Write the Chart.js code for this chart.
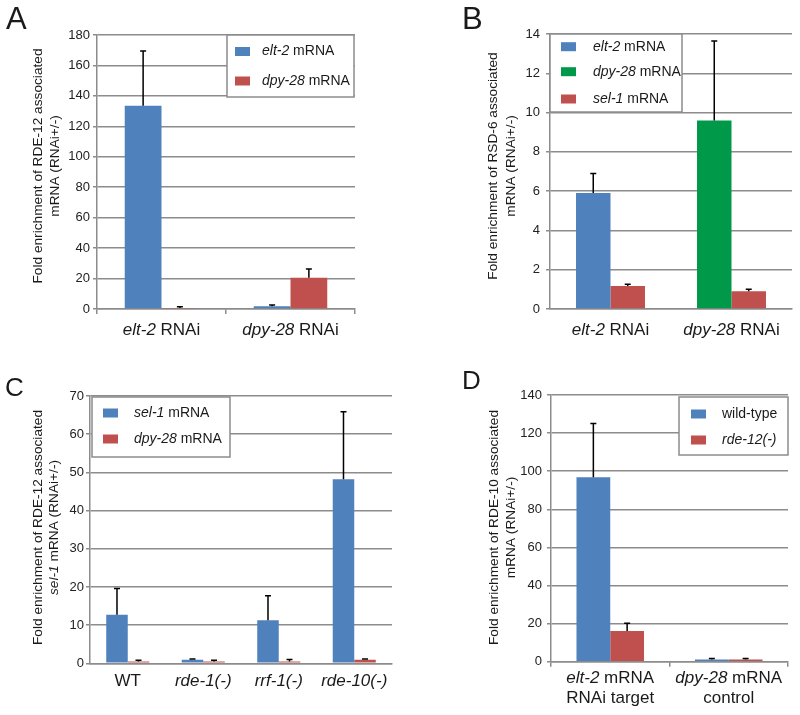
<!DOCTYPE html>
<html>
<head>
<meta charset="utf-8">
<script src="https://cdn.jsdelivr.net/npm/chart.js@4.4.1/dist/chart.umd.min.js"></script>
<style>
  body { margin: 0; background: #fff; }
  #page { position: relative; width: 800px; height: 715px; font-family: 'Liberation Sans', Arial, sans-serif; color: #1a1a1a; }
  #page canvas { position: absolute; }
  .tag { position: absolute; line-height: 1; }
</style>
</head>
<body>
<div id="page">
  <canvas id="chartA" width="400" height="340" style="left:0;top:0"></canvas>
  <canvas id="chartB" width="400" height="340" style="left:400px;top:0"></canvas>
  <canvas id="chartC" width="400" height="375" style="left:0;top:340px"></canvas>
  <canvas id="chartD" width="400" height="375" style="left:400px;top:340px"></canvas>
  <div class="tag" style="left:6px;top:3px;font-size:31px">A</div>
  <div class="tag" style="left:462px;top:3px;font-size:31px">B</div>
  <div class="tag" style="left:5px;top:374px;font-size:26px">C</div>
  <div class="tag" style="left:462px;top:367px;font-size:26px">D</div>
</div>
<script>
// text between *...* is drawn in italics

// A - RDE-12 associated mRNA
const catsA = ['*elt-2* RNAi', '*dpy-28* RNAi'];
const elt2A = [133.5, 1.8];
const elt2SdA = [36, 0.8];
const dpy28A = [0.6, 20.5];
const dpy28SdA = [0.9, 5.8];
const legendA = ['*elt-2* mRNA', '*dpy-28* mRNA'];

// B - RSD-6 associated mRNA (target bar is elt-2 or dpy-28)
const catsB = ['*elt-2* RNAi', '*dpy-28* RNAi'];
const targetB = [5.9, 9.6];
const targetSdB = [1.0, 4.05];
const sel1B = [1.17, 0.9];
const sel1SdB = [0.09, 0.1];
const legendB = ['*elt-2* mRNA', '*dpy-28* mRNA', '*sel-1* mRNA'];

// C - RDE-12 associated sel-1 mRNA
const catsC = ['WT', '*rde-1(-)*', '*rrf-1(-)*', '*rde-10(-)*'];
const sel1C = [12.7, 0.9, 11.3, 48.2];
const sel1SdC = [6.9, 0.2, 6.4, 17.7];
const dpy28C = [0.5, 0.5, 0.5, 0.9];
const dpy28SdC = [0.3, 0.3, 0.5, 0.2];
const legendC = ['*sel-1* mRNA', '*dpy-28* mRNA'];

// D - RDE-10 associated mRNA
const catsD = [['*elt-2* mRNA', 'RNAi target'], ['*dpy-28* mRNA', 'control']];
const wildD = [96.8, 1.2];
const wildSdD = [28.3, 0.5];
const rde12D = [16.1, 1.2];
const rde12SdD = [4.1, 0.5];
const legendD = ['wild-type', '*rde-12(-)*'];

// y axis ranges
const yMax = { A: 180, B: 14, C: 70, D: 140 };
const yStep = { A: 20, B: 2, C: 10, D: 20 };

const blue = '#4f81bd', red = '#c0504d', green = '#00994a';
const axisGray = '#8c8c8c';
const FONT = "'Liberation Sans', Arial, sans-serif";

Chart.defaults.font.family = FONT;
Chart.defaults.color = '#222';

function parseRich(str) {
  return str.split('*').map((t, i) => ({ text: t, italic: i % 2 === 1 })).filter(p => p.text !== '');
}

function drawRich(ctx, str, x, y, size, align) {
  const parts = parseRich(str);
  let total = 0;
  parts.forEach(p => {
    ctx.font = (p.italic ? 'italic ' : '') + size + 'px ' + FONT;
    p.w = ctx.measureText(p.text).width;
    total += p.w;
  });
  let cx = align === 'center' ? x - total / 2 : x;
  ctx.textAlign = 'left';
  ctx.textBaseline = 'middle';
  parts.forEach(p => {
    ctx.font = (p.italic ? 'italic ' : '') + size + 'px ' + FONT;
    ctx.fillText(p.text, cx, y);
    cx += p.w;
  });
}

// error bars, category labels, axis title and boxed legend
function decorPlugin(p) {
  return {
    id: 'decor',
    afterDatasetsDraw(chart) {
      const ctx = chart.ctx, y = chart.scales.y;
      ctx.save();
      ctx.strokeStyle = '#000';
      ctx.lineWidth = 1.5;
      chart.data.datasets.forEach((ds, di) => {
        const sd = p.errors[di];
        chart.getDatasetMeta(di).data.forEach((bar, i) => {
          const top = y.getPixelForValue(ds.data[i] + sd[i]);
          ctx.beginPath();
          ctx.moveTo(bar.x, bar.y);
          ctx.lineTo(bar.x, top);
          ctx.moveTo(bar.x - 3, top);
          ctx.lineTo(bar.x + 3, top);
          ctx.stroke();
        });
      });
      ctx.restore();
    },
    afterDraw(chart) {
      const ctx = chart.ctx, x = chart.scales.x;
      ctx.save();
      ctx.fillStyle = '#1a1a1a';
      p.cats.forEach((cat, i) => {
        [].concat(cat).forEach((line, k) => {
          drawRich(ctx, line, x.getPixelForTick(i), p.catY[k], 17, 'center');
        });
      });
      p.title.forEach((line, k) => {
        ctx.save();
        ctx.translate(p.titleX[k], p.titleY);
        ctx.rotate(-Math.PI / 2);
        drawRich(ctx, line, 0, 0, 13.7, 'center');
        ctx.restore();
      });
      const lg = p.legend;
      const [x0, y0, x1, y1] = lg.box;
      ctx.fillStyle = '#fff';
      ctx.fillRect(x0, y0, x1 - x0, y1 - y0);
      ctx.strokeStyle = axisGray;
      ctx.lineWidth = 1.5;
      ctx.strokeRect(x0, y0, x1 - x0, y1 - y0);
      lg.names.forEach((name, k) => {
        ctx.fillStyle = lg.colors[k];
        ctx.fillRect(lg.swatchX, lg.rowsY[k] - 4.5, 15, 9);
        ctx.fillStyle = '#1a1a1a';
        drawRich(ctx, name, lg.textX, lg.rowsY[k], 14, 'left');
      });
      ctx.restore();
    }
  };
}

function makePanel(id, p) {
  const canvas = document.getElementById(id);
  new Chart(canvas, {
    type: 'bar',
    data: {
      labels: p.cats.map(c => [].concat(c).join(' ').replace(/\*/g, '')),
      datasets: p.series.map(s => ({
        data: s.data,
        backgroundColor: s.color,
        borderWidth: 0,
        categoryPercentage: 0.57,
        barPercentage: 1
      }))
    },
    options: {
      responsive: false,
      animation: false,
      layout: { padding: { left: 0, top: p.area.top, right: canvas.width - p.area.right, bottom: 0 } },
      plugins: { legend: { display: false }, tooltip: { enabled: false } },
      scales: {
        x: {
          ticks: { display: false },
          grid: { display: p.xTicks, offset: true, drawOnChartArea: false, tickLength: 5, color: axisGray, lineWidth: 1.5 },
          border: { display: true, color: axisGray, width: 1.5 },
          afterFit: s => { s.height = canvas.height - p.area.bottom; }
        },
        y: {
          min: 0,
          max: p.max,
          ticks: { stepSize: p.step, padding: p.tickPad, font: { size: 13 }, color: '#222' },
          grid: { color: axisGray, lineWidth: 1.5, tickLength: 4 },
          border: { display: true, color: axisGray, width: 1.5 },
          afterFit: s => { s.width = p.area.left; }
        }
      }
    },
    plugins: [decorPlugin(p)]
  });
}

makePanel('chartA', {
  cats: catsA,
  series: [{ data: elt2A, color: blue }, { data: dpy28A, color: red }],
  errors: [elt2SdA, dpy28SdA],
  max: yMax.A, step: yStep.A, tickPad: 3, xTicks: true,
  area: { left: 97, top: 35, right: 355, bottom: 309 },
  catY: [330],
  title: ['Fold enrichment of RDE-12 associated', 'mRNA (RNAi+/-)'],
  titleX: [38, 55], titleY: 166,
  legend: { names: legendA, colors: [blue, red], box: [227, 35, 354, 97], swatchX: 235, textX: 262, rowsY: [51.5, 81] }
});

makePanel('chartB', {
  cats: catsB,
  series: [{ data: targetB, color: [blue, green] }, { data: sel1B, color: red }],
  errors: [targetSdB, sel1SdB],
  max: yMax.B, step: yStep.B, tickPad: 6, xTicks: false,
  area: { left: 150, top: 34, right: 392, bottom: 309 },
  catY: [330],
  title: ['Fold enrichment of RSD-6 associated', 'mRNA (RNAi+/-)'],
  titleX: [93, 111], titleY: 166,
  legend: { names: legendB, colors: [blue, green, red], box: [150, 34, 282, 112], swatchX: 161, textX: 193, rowsY: [46.7, 71.7, 99] }
});

makePanel('chartC', {
  cats: catsC,
  series: [{ data: sel1C, color: blue }, { data: dpy28C, color: red }],
  errors: [sel1SdC, dpy28SdC],
  max: yMax.C, step: yStep.C, tickPad: 2, xTicks: false,
  area: { left: 90, top: 56, right: 392, bottom: 323.3 },
  catY: [341.7],
  title: ['Fold enrichment of RDE-12 associated', '*sel-1* mRNA (RNAi+/-)'],
  titleX: [38, 54], titleY: 187.5,
  legend: { names: legendC, colors: [blue, red], box: [92, 57, 230, 117], swatchX: 103, textX: 134, rowsY: [73, 99] }
});

makePanel('chartD', {
  cats: catsD,
  series: [{ data: wildD, color: blue }, { data: rde12D, color: red }],
  errors: [wildSdD, rde12SdD],
  max: yMax.D, step: yStep.D, tickPad: 5, xTicks: true,
  area: { left: 151, top: 55, right: 388, bottom: 321.7 },
  catY: [338, 358],
  title: ['Fold enrichment of RDE-10 associated', 'mRNA (RNAi+/-)'],
  titleX: [94, 111], titleY: 187.5,
  legend: { names: legendD, colors: [blue, red], box: [279, 57, 388, 115], swatchX: 291, textX: 322, rowsY: [74, 100] }
});
</script>
</body>
</html>
